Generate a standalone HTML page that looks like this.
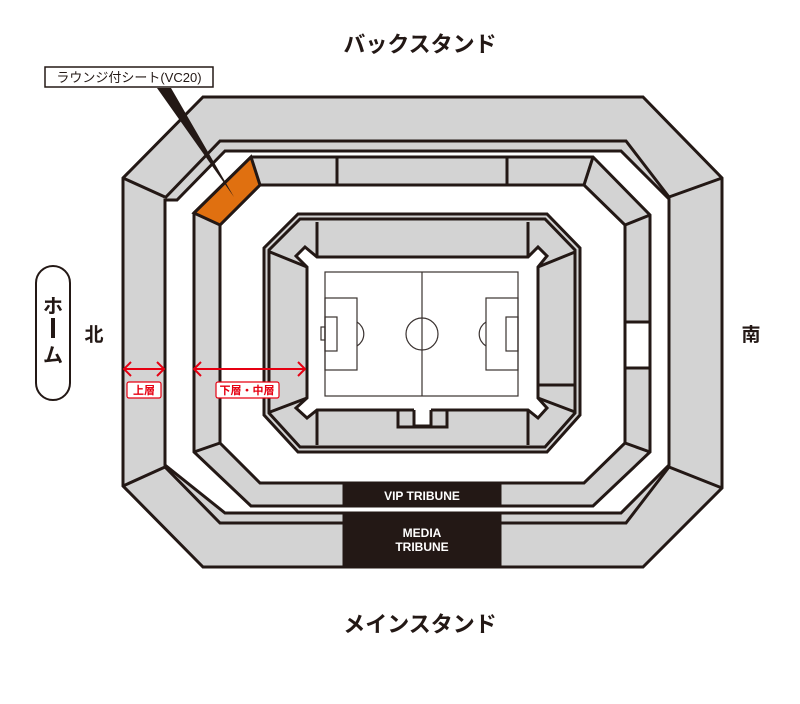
<!DOCTYPE html>
<html><head><meta charset="utf-8"><style>
html,body{margin:0;padding:0;background:#fff;}
svg{display:block;}
text{font-family:"Liberation Sans","Noto Sans CJK JP",sans-serif;}
</style></head><body>
<svg width="800" height="704" viewBox="0 0 800 704" xmlns="http://www.w3.org/2000/svg">
<g stroke="#231815" stroke-width="3" stroke-linejoin="miter" fill="#d3d3d3">
<!-- outer ring incl strips -->
<path fill-rule="evenodd" d="M203,97 L643,97 L722,178 L722,488 L643,567 L203,567 L123,486 L123,178 Z M225,151 L621,151 L669,199 L669,465 L621,513 L225,513 L165,465 L165,200 L177,200 Z"/>
<polyline fill="none" points="165,198 220,141 626,141 669,197"/>
<polyline fill="none" points="165,467 220,523 626,523 669,467"/>
<line x1="123" y1="178" x2="165" y2="197"/>
<line x1="722" y1="178" x2="669" y2="197"/>
<line x1="722" y1="488" x2="669" y2="467"/>
<line x1="123" y1="486" x2="165" y2="467"/>
<!-- middle ring -->
<path fill-rule="evenodd" d="M194,213 L251,157 L593,157 L650,215 L650,452 L593,506 L251,506 L194,452 Z M220,225 L260,185 L584,185 L625,225 L625,443 L584,483 L260,483 L220,443 Z"/>
<polygon fill="#e07010" points="194,213 251,157 260,185 220,225"/>
<line x1="593" y1="157" x2="584" y2="185"/>
<line x1="650" y1="215" x2="625" y2="225"/>
<line x1="650" y1="452" x2="625" y2="443"/>
<line x1="194" y1="452" x2="220" y2="443"/>
<line x1="337" y1="157" x2="337" y2="185"/>
<line x1="507" y1="157" x2="507" y2="185"/>
<rect x="625" y="322" width="25" height="46" fill="#fff"/>
<!-- inner stadium -->
<polygon points="298,214 547,214 580,248 580,415 547,452 298,452 264,415 264,248"/>
<polygon points="300,219 545,219 575,250 575,413 545,447 300,447 269,413 269,250"/>
<polygon fill="#fff" points="307,267 296,256 305,247 317,257 528,257 538,247 547,256 538,267 538,398 547,408 538,418 528,410 317,410 307,418 296,408 307,398"/>
<line x1="317" y1="222" x2="317" y2="257"/>
<line x1="528" y1="222" x2="528" y2="257"/>
<line x1="317" y1="410" x2="317" y2="445"/>
<line x1="528" y1="410" x2="528" y2="445"/>
<line x1="270" y1="252" x2="307" y2="267"/>
<line x1="575" y1="252" x2="538" y2="267"/>
<line x1="270" y1="412" x2="307" y2="398"/>
<line x1="575" y1="412" x2="538" y2="398"/>
<line x1="538" y1="385" x2="575" y2="385"/>
<polygon points="398,410 447,410 447,427 398,427"/>
<rect x="414" y="408" width="17" height="18" fill="#fff" stroke="none"/>
<polyline fill="none" points="414,410 414,426 431,426 431,410"/>
<!-- VIP / MEDIA -->
<rect x="344" y="483" width="156" height="23" fill="#231815"/>
<rect x="344" y="513" width="156" height="54" fill="#231815"/>
</g>
<!-- pitch -->
<g fill="none" stroke="#3a3230" stroke-width="1.2">
<rect x="325" y="272" width="193" height="124" fill="#fff"/>
<line x1="422" y1="272" x2="422" y2="396"/>
<circle cx="422" cy="334" r="16"/>
<rect x="325" y="298" width="32" height="72"/>
<rect x="325" y="317" width="12" height="34"/>
<rect x="321" y="327" width="4" height="13"/>
<path d="M357,322 A14,14 0 0 1 357,346"/>
<rect x="486" y="298" width="32" height="72"/>
<rect x="506" y="317" width="12" height="34"/>
<path d="M486,322 A14,14 0 0 0 486,346"/>
</g>
<text x="422" y="500" fill="#fff" font-size="12" font-weight="bold" text-anchor="middle">VIP TRIBUNE</text>
<text x="422" y="537" fill="#fff" font-size="12" font-weight="bold" text-anchor="middle">MEDIA</text>
<text x="422" y="551" fill="#fff" font-size="12" font-weight="bold" text-anchor="middle">TRIBUNE</text>
<!-- titles -->
<text x="420" y="52" font-size="22" font-weight="bold" text-anchor="middle" fill="#231815">バックスタンド</text>
<text x="420" y="632" font-size="22" font-weight="bold" text-anchor="middle" fill="#231815">メインスタンド</text>
<text x="94" y="341" font-size="19" font-weight="bold" text-anchor="middle" fill="#231815">北</text>
<text x="751" y="341" font-size="19" font-weight="bold" text-anchor="middle" fill="#231815">南</text>
<!-- home pill -->
<rect x="36" y="266" width="34" height="134" rx="17" fill="#fff" stroke="#231815" stroke-width="2"/>
<text x="53" y="313" font-size="20" font-weight="bold" text-anchor="middle" fill="#231815">ホ</text>
<rect x="51" y="318" width="4" height="20" fill="#231815"/>
<text x="53" y="362" font-size="20" font-weight="bold" text-anchor="middle" fill="#231815">ム</text>
<!-- lounge label -->
<polygon points="157,88 171,88 234,197" fill="#231815"/>
<rect x="45" y="67" width="168" height="20" fill="#fff" stroke="#231815" stroke-width="1.5"/>
<text x="129" y="82" font-size="13" text-anchor="middle" fill="#231815">ラウンジ付シート(VC20)</text>
<!-- red arrows -->
<g stroke="#e60012" stroke-width="2" fill="none">
<line x1="124" y1="369" x2="164" y2="369"/>
<polyline points="131,362 124,369 131,376"/>
<polyline points="157,362 164,369 157,376"/>
<line x1="194" y1="369" x2="305" y2="369"/>
<polyline points="201,362 194,369 201,376"/>
<polyline points="298,362 305,369 298,376"/>
</g>
<rect x="127" y="382" width="34" height="16" rx="2" fill="#fff" stroke="#e60012" stroke-width="1.2"/>
<text x="144" y="394" font-size="11" font-weight="bold" text-anchor="middle" fill="#e60012">上層</text>
<rect x="216" y="382" width="63" height="16" rx="2" fill="#fff" stroke="#e60012" stroke-width="1.2"/>
<text x="247" y="394" font-size="11" font-weight="bold" text-anchor="middle" fill="#e60012">下層・中層</text>
</svg>
</body></html>
